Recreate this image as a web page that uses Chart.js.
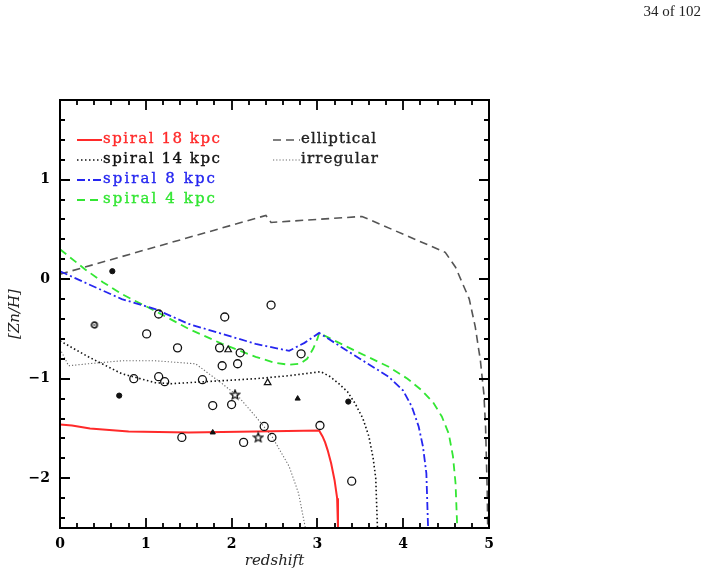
<!DOCTYPE html>
<html>
<head>
<meta charset="utf-8">
<script src="https://cdn.jsdelivr.net/npm/chart.js@4/dist/chart.umd.min.js"></script>
<style>
  html, body { margin: 0; padding: 0; background: #fff; }
  #wrap { position: relative; width: 710px; height: 574px; }
  #page { position: absolute; right: 9px; top: 3px; font: 15px "Liberation Serif", serif; color: #222; }
  canvas { position: absolute; left: 0; top: 0; }
</style>
</head>
<body>
<div id="wrap">
  <canvas id="c" width="710" height="574"></canvas>
  <div id="page">34 of 102</div>
</div>
<script>
// ---- data (redshift, [Zn/H]) ----
const xTicks = [0, 1, 2, 3, 4, 5];
const yTicks = [-2, -1, 0, 1];

const spiral18 = [[0,-1.46],[0.14,-1.47],[0.35,-1.50],[0.8,-1.53],[1.5,-1.54],[2.28,-1.53],[3.02,-1.52],[3.06,-1.58],[3.09,-1.64],[3.12,-1.72],[3.16,-1.85],[3.2,-2.02],[3.23,-2.2],[3.24,-2.5]];
const spiral14 = [[0,-0.62],[0.33,-0.78],[0.72,-0.95],[1.11,-1.04],[1.30,-1.05],[1.89,-1.02],[2.28,-1.00],[2.67,-0.97],[3.04,-0.93],[3.15,-0.98],[3.25,-1.05],[3.35,-1.13],[3.44,-1.25],[3.53,-1.40],[3.60,-1.58],[3.65,-1.80],[3.68,-2.0],[3.70,-2.5]];
const spiral8 = [[0,0.08],[0.33,-0.05],[0.72,-0.20],[1.11,-0.30],[1.5,-0.45],[1.89,-0.55],[2.28,-0.65],[2.5,-0.69],[2.67,-0.72],[2.85,-0.64],[3.02,-0.54],[3.44,-0.77],[3.83,-0.98],[4.0,-1.12],[4.1,-1.28],[4.18,-1.48],[4.23,-1.68],[4.27,-1.95],[4.29,-2.5]];
const spiral4 = [[0,0.30],[0.29,0.10],[0.5,-0.03],[0.72,-0.15],[1.11,-0.32],[1.5,-0.50],[1.89,-0.65],[2.28,-0.78],[2.5,-0.84],[2.67,-0.86],[2.8,-0.85],[2.88,-0.80],[2.95,-0.70],[3.0,-0.60],[3.02,-0.54],[3.44,-0.72],[3.83,-0.88],[4.05,-1.0],[4.22,-1.12],[4.35,-1.24],[4.45,-1.38],[4.53,-1.55],[4.58,-1.78],[4.61,-2.05],[4.63,-2.5]];
const elliptical = [[0,0.05],[2.40,0.64],[2.46,0.57],[3.52,0.63],[4.49,0.27],[4.61,0.12],[4.77,-0.2],[4.84,-0.48],[4.90,-0.82],[4.94,-1.15],[4.96,-1.48],[4.98,-2.15],[4.985,-2.5]];
const irregular = [[0,-0.70],[0.10,-0.87],[0.33,-0.85],[0.72,-0.82],[1.11,-0.82],[1.58,-0.85],[1.89,-1.05],[2.08,-1.18],[2.28,-1.38],[2.47,-1.58],[2.67,-1.88],[2.78,-2.15],[2.86,-2.5]];

const openCircles = [[1.15,-0.35],[1.01,-0.55],[1.37,-0.69],[1.92,-0.38],[2.46,-0.26],[1.86,-0.69],[2.10,-0.74],[1.89,-0.87],[2.07,-0.85],[2.81,-0.75],[0.86,-1.00],[1.15,-0.98],[1.22,-1.03],[1.66,-1.01],[1.78,-1.27],[2.00,-1.26],[2.38,-1.48],[3.03,-1.47],[1.42,-1.59],[2.14,-1.64],[2.47,-1.59],[3.40,-2.03]];
const openTriangles = [[1.96,-0.71],[2.42,-1.04]];
const filledTriangles = [[2.77,-1.20],[1.78,-1.54]];
const stars = [[2.04,-1.16],[2.31,-1.59]];
const filledDots = [[0.61,0.08],[0.69,-1.17],[3.36,-1.23]];
const ringDots = [[0.40,-0.46]];

// ---- styles ----
const RED = '#ff2a2a', BLUE = '#2626f0', GREEN = '#33e633', BLACK = '#111', GRAY = '#555', LGRAY = '#6a6a6a';
const lineSeries = [
  {label: 'spiral 18 kpc', data: spiral18, color: RED, dash: [], width: 2},
  {label: 'spiral 14 kpc', data: spiral14, color: BLACK, dash: [1.5, 2.5], width: 1.6},
  {label: 'spiral 8 kpc', data: spiral8, color: BLUE, dash: [8, 3, 2, 3], width: 1.8},
  {label: 'spiral 4 kpc', data: spiral4, color: GREEN, dash: [8, 5], width: 1.8},
  {label: 'elliptical', data: elliptical, color: GRAY, dash: [8, 5], width: 1.6},
  {label: 'irregular', data: irregular, color: LGRAY, dash: [1.2, 2], width: 1.1}
];
const toXY = a => a.map(p => ({x: p[0], y: p[1]}));

// custom marker images
function starImage() {
  const c = document.createElement('canvas'); c.width = 12; c.height = 12;
  const g = c.getContext('2d');
  g.beginPath();
  for (let i = 0; i < 10; i++) {
    const r = i % 2 === 0 ? 4.8 : 2.1;
    const ang = -Math.PI / 2 + i * Math.PI / 5;
    const px = 6 + r * Math.cos(ang), py = 6.3 + r * Math.sin(ang);
    if (i === 0) g.moveTo(px, py); else g.lineTo(px, py);
  }
  g.closePath();
  g.strokeStyle = '#111'; g.lineWidth = 1.3; g.stroke();
  return c;
}
function ringImage() {
  const c = document.createElement('canvas'); c.width = 10; c.height = 10;
  const g = c.getContext('2d');
  g.beginPath(); g.arc(5, 5, 2.8, 0, Math.PI * 2);
  g.strokeStyle = '#222'; g.lineWidth = 1.8; g.stroke();
  g.beginPath(); g.arc(5, 5, 0.9, 0, Math.PI * 2); g.fillStyle = '#555'; g.fill();
  return c;
}

const datasets = lineSeries.map(s => ({
  type: 'scatter', label: s.label, data: toXY(s.data), showLine: true,
  borderColor: s.color, borderDash: s.dash, borderWidth: s.width,
  pointRadius: 0, fill: false, tension: 0, order: 2
}));
function markers(arr, style, r, filled, bw) {
  return {type: 'scatter', data: toXY(arr), showLine: false, pointStyle: style,
    pointRadius: r, pointBorderColor: '#111', pointBackgroundColor: filled ? '#111' : 'rgba(0,0,0,0)',
    pointBorderWidth: bw, order: 1};
}
datasets.push(markers(openCircles, 'circle', 4, false, 1.3));
datasets.push(markers(openTriangles, 'triangle', 3.8, false, 1.2));
datasets.push(markers(filledTriangles, 'triangle', 3, true, 1));
datasets.push(markers(stars, starImage(), 5, false, 1));
datasets.push(markers(filledDots, 'circle', 2.6, true, 1));
datasets.push(markers(ringDots, ringImage(), 4, false, 1));

const SERIF = '"DejaVu Serif", serif';

const frameTicks = {
  id: 'frameTicks',
  afterDraw(chart) {
    const {ctx, chartArea: a, scales: {x, y}} = chart;
    ctx.save();
    ctx.strokeStyle = '#000';
    ctx.lineWidth = 2;
    ctx.setLineDash([]);
    ctx.strokeRect(a.left, a.top, a.right - a.left, a.bottom - a.top);
    ctx.lineWidth = 1.8;
    ctx.beginPath();
    for (let i = 0; i <= 25; i++) {
      const v = i * 0.2;
      const px = Math.round(x.getPixelForValue(v));
      const len = (i % 5 === 0) ? 10 : 5;
      ctx.moveTo(px, a.bottom); ctx.lineTo(px, a.bottom - len);
      ctx.moveTo(px, a.top); ctx.lineTo(px, a.top + len);
    }
    for (let i = -12; i <= 9; i++) {
      const v = i * 0.2;
      const py = Math.round(y.getPixelForValue(v));
      const len = (i % 5 === 0) ? 10 : 5;
      ctx.moveTo(a.left, py); ctx.lineTo(a.left + len, py);
      ctx.moveTo(a.right, py); ctx.lineTo(a.right - len, py);
    }
    ctx.stroke();
    ctx.restore();
  }
};

const legendTargets = {'spiral 18 kpc': 117, 'spiral 14 kpc': 117, 'spiral 8 kpc': 112, 'spiral 4 kpc': 112, 'elliptical': 75, 'irregular': 77};
function drawSpaced(ctx, text, x, y, target) {
  const total = ctx.measureText(text).width;
  const extra = (target - total) / (text.length - 1);
  let cx = x;
  for (const ch of text) {
    ctx.fillText(ch, cx, y);
    ctx.strokeText(ch, cx, y);
    cx += ctx.measureText(ch).width + extra;
  }
}
const insideLegend = {
  id: 'insideLegend',
  afterDraw(chart) {
    const {ctx} = chart;
    ctx.save();
    ctx.font = '15px ' + SERIF;
    ctx.textBaseline = 'middle';
    const pos = [[77, 102, 139], [77, 102, 159], [77, 102, 179], [77, 102, 199], [273, 300, 139], [273, 300, 159]];
    lineSeries.forEach((s, i) => {
      const [x0, x1, yy] = pos[i];
      ctx.strokeStyle = s.color;
      ctx.lineWidth = s.width;
      ctx.setLineDash(s.dash);
      ctx.beginPath(); ctx.moveTo(x0, yy + 1); ctx.lineTo(x1, yy + 1); ctx.stroke();
      ctx.setLineDash([]);
      const tc = (s.color === GRAY || s.color === LGRAY) ? '#222' : s.color;
      ctx.fillStyle = tc; ctx.strokeStyle = tc; ctx.lineWidth = 0.35;
      drawSpaced(ctx, s.label, x1 + 1, yy, legendTargets[s.label]);
    });
    ctx.restore();
  }
};

new Chart(document.getElementById('c'), {
  type: 'scatter',
  data: {datasets},
  options: {
    responsive: false, animation: false, devicePixelRatio: 1,
    layout: {padding: {top: 100, right: 221, left: 0, bottom: 0}},
    plugins: {legend: {display: false}, tooltip: {enabled: false}},
    scales: {
      x: {
        type: 'linear', min: 0, max: 5,
        grid: {display: false, drawTicks: false}, border: {display: false},
        afterBuildTicks: s => { s.ticks = xTicks.map(v => ({value: v})); },
        ticks: {padding: 8, color: '#000', font: {family: SERIF, size: 14, weight: 'bold'}, maxRotation: 0},
        title: {display: true, text: 'redshift', color: '#222', font: {family: SERIF, size: 15, style: 'italic'}, padding: {top: 4, bottom: 4}},
        afterFit: s => { s.height = 46; }
      },
      y: {
        type: 'linear', min: -2.5, max: 1.8,
        grid: {display: false, drawTicks: false}, border: {display: false},
        afterBuildTicks: s => { s.ticks = yTicks.map(v => ({value: v})); },
        ticks: {padding: 10, color: '#000', font: {family: SERIF, size: 14, weight: 'bold'},
          callback: v => String(v).replace('-', '\u2212')},
        title: {display: true, text: '[Zn/H]', color: '#222', font: {family: SERIF, size: 15, style: 'italic'}, padding: {top: 6, bottom: 4}},
        afterFit: s => { s.width = 60; }
      }
    }
  },
  plugins: [frameTicks, insideLegend]
});
</script>
</body>
</html>
